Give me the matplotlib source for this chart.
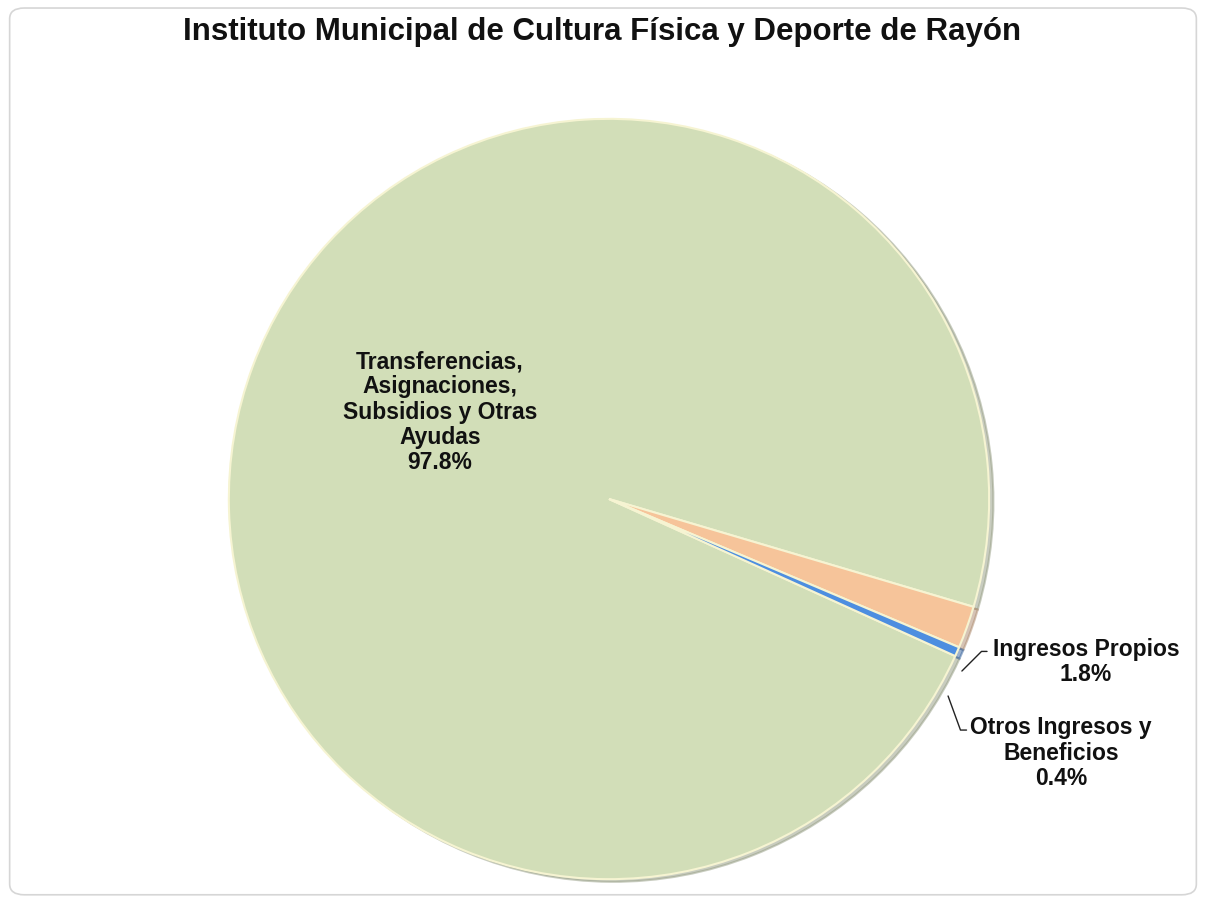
import matplotlib.pyplot as plt
from matplotlib.patches import FancyBboxPatch

# Data
categories = ['Transferencias,\nAsignaciones,\nSubsidios y Otras\nAyudas',
              'Ingresos Propios',
              'Otros Ingresos y\nBeneficios']
shares = [97.8, 1.8, 0.4]
colors = ['#D2DEB8', '#F6C49A', '#4D8EE0']

plt.rcParams['font.family'] = ['Liberation Sans', 'DejaVu Sans']

fig = plt.figure(figsize=(12.06, 9.03), dpi=100)
fig.patch.set_facecolor('white')

# rounded chart frame
frame = FancyBboxPatch((0.008, 0.008), 0.984, 0.982,
                       boxstyle='round,pad=0,rounding_size=0.012',
                       transform=fig.transFigure, facecolor='none',
                       edgecolor='#D6D6D6', linewidth=1.2, zorder=-1)
fig.patches.append(frame)

fig.text(0.499, 0.965, 'Instituto Municipal de Cultura Física y Deporte de Rayón',
         ha='center', va='center', fontsize=22.5, fontweight='bold', color='#111111')

# pie axes: square in pixels, centre ~ (609, 500) px, radius ~ 384 px
W, H = 1206, 903
cx, cy, r = 609, 500, 384
ax = fig.add_axes([(cx - r) / W, (H - cy - r) / H, 2 * r / W, 2 * r / H])

wedges, _ = ax.pie(shares, colors=colors, startangle=335.6, counterclock=False,
                   radius=0.99, center=(0, 0), frame=False,
                   wedgeprops=dict(edgecolor='#F6F4D2', linewidth=1.5),
                   shadow=dict(ox=0.008, oy=-0.005, shade=0.3))
ax.set_xlim(-1, 1)
ax.set_ylim(-1, 1)
ax.set_aspect('auto')
ax.axis('off')

lab_kw = dict(fontsize=16.5, fontweight='bold', color='#111111', ha='center',
              linespacing=1.12)

# main slice label
ax.text(-0.44, 0.229, f'{categories[0]}\n{shares[0]}%', va='center', **lab_kw)

# Ingresos Propios label with leader
ax.annotate(f'{categories[1]}\n{shares[1]}%', xy=(0.919, -0.448),
            xytext=(1.242, -0.422), va='center', **lab_kw,
            arrowprops=dict(arrowstyle='-', color='#222222', lw=1,
                            connectionstyle='angle,angleA=0,angleB=45,rad=0',
                            shrinkA=0, shrinkB=0,
                            relpos=(-0.03, 0.70)))

# Otros Ingresos label with leader
ax.annotate(f'{categories[2]}\n{shares[2]}%', xy=(0.883, -0.513),
            xytext=(1.177, -0.659), va='center', **lab_kw,
            arrowprops=dict(arrowstyle='-', color='#222222', lw=1,
                            connectionstyle='angle,angleA=0,angleB=110,rad=0',
                            shrinkA=0, shrinkB=0,
                            relpos=(-0.02, 0.80)))

fig.savefig('out.png', dpi=100, facecolor='white')
